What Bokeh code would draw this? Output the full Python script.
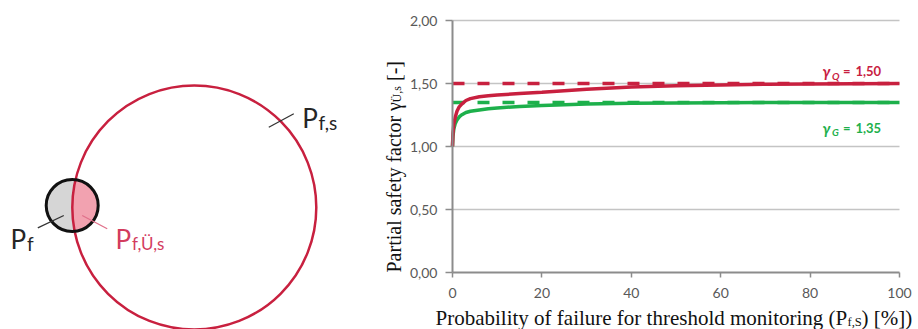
import numpy as np
from bokeh.plotting import figure
from bokeh.models import Range1d, FixedTicker
from bokeh.embed import file_html
from bokeh.resources import INLINE
from bokeh.core.properties import value

# ---------------- data ----------------
prob = [0, 0.1, 0.3, 0.6, 1, 1.5, 2, 3, 4, 6, 8, 10, 15, 20, 30, 40, 50, 60, 70, 80, 90, 100]
gamma_q_curve = [1.00, 1.10, 1.18, 1.23, 1.28, 1.315, 1.335, 1.365, 1.38, 1.395, 1.402, 1.408,
                 1.42, 1.43, 1.455, 1.472, 1.482, 1.489, 1.494, 1.497, 1.499, 1.50]
gamma_g_curve = [1.00, 1.08, 1.14, 1.18, 1.21, 1.235, 1.25, 1.27, 1.28, 1.29, 1.30, 1.306,
                 1.318, 1.326, 1.337, 1.343, 1.346, 1.348, 1.349, 1.35, 1.35, 1.35]
gamma_q_target = 1.50
gamma_g_target = 1.35
x_ticks = [0, 20, 40, 60, 80, 100]
y_ticks = [0.0, 0.5, 1.0, 1.5, 2.0]
y_tick_labels = ["0,00", "0,50", "1,00", "1,50", "2,00"]

RED = "#c8203f"
GREEN = "#1db04b"
PINK_TXT = "#d33c5e"
DARK = "#262626"
SANS = "Lato"
SERIF = "Liberation Serif"

# ---------------- page geometry (pixels) ----------------
W, H = 918, 329
FX0, FX1 = 452, 899      # plot area left/right
FY0, FY1 = 272, 20       # plot area bottom/top (from page top)
XMAX, YMAX = x_ticks[-1], y_ticks[-1]
sx = (FX1 - FX0) / XMAX
sy = (FY0 - FY1) / YMAX

p = figure(width=W, height=H,
           x_range=Range1d(-FX0 / sx, (W - FX0) / sx),
           y_range=Range1d(-(H - FY0) / sy, FY0 / sy),
           extra_x_ranges={"px": Range1d(0, W)}, extra_y_ranges={"px": Range1d(0, H)},
           min_border=0, toolbar_location=None, output_backend="svg",
           outline_line_color=None)
p.grid.visible = False

PX = dict(x_range_name="px", y_range_name="px")

def Y(y):  # page y (from top) -> px range value
    return H - y

# ---------------- chart axes ----------------
for ax in (p.xaxis[0], p.yaxis[0]):
    ax.fixed_location = 0
    ax.axis_line_color = "#8c8c8c"
    ax.axis_line_width = 2
    ax.major_tick_line_color = "#8c8c8c"
    ax.major_tick_line_width = 1.5
    ax.major_tick_in = 0
    ax.minor_tick_line_color = None
    ax.major_label_text_font = SANS
    ax.major_label_text_font_size = "14px"
    ax.major_label_text_color = "#595959"

p.xaxis.bounds = (x_ticks[0], x_ticks[-1])
p.xaxis.ticker = FixedTicker(ticks=x_ticks)
p.xaxis.major_tick_out = 5
p.xaxis.major_label_standoff = 10
p.yaxis.bounds = (y_ticks[0], y_ticks[-1])
p.yaxis.ticker = FixedTicker(ticks=y_ticks)
p.yaxis.major_tick_out = 7
p.yaxis.major_label_standoff = 8
p.yaxis.major_label_overrides = {t: s for t, s in zip(y_ticks, y_tick_labels)}

# horizontal grid lines
gy = y_ticks[1:]
p.segment(x0=[x_ticks[0]] * len(gy), x1=[x_ticks[-1]] * len(gy), y0=gy, y1=gy,
          line_color="#c4c4c4", line_width=1.5, level="underlay")

# curves
p.line([prob[0], prob[-1]], [gamma_q_target] * 2, line_color=RED, line_width=3.5, line_dash="12 13")
p.line([prob[0], prob[-1]], [gamma_g_target] * 2, line_color=GREEN, line_width=3.5, line_dash="12 13")
p.line(prob, gamma_g_curve, line_color=GREEN, line_width=3.5)
p.line(prob, gamma_q_curve, line_color=RED, line_width=3.5)

def txt(x, y, s, size, color, font=SANS, style="normal", angle=0.0):
    p.text(x=[x], y=[Y(y)], text=[s], text_font=value(font), text_font_size=size,
           text_color=color, text_baseline="alphabetic", text_align="left",
           text_font_style=style, angle=angle, **PX)

# curve labels
for (yb, sub, val, col) in [(70.7, "Q", "1,50", RED), (127.3, "G", "1,35", GREEN)]:
    txt(822, yb, "γ", "15px", col, style="bold italic")
    txt(831.5, yb + 4.3, sub, "10px", col, style="bold italic")
    txt(842.5, yb, "=", "13px", col, style="bold")
    txt(855, yb, val, "13px", col, style="bold")

# y-axis title (rotated)
txt(393, 272, "Partial safety factor γ", "20px", "#111111", font=SERIF, angle=np.pi / 2)
txt(396, 102, "Ü,s", "12px", "#111111", font=SERIF, angle=np.pi / 2)
txt(393, 80.5, "[-]", "20px", "#111111", font=SERIF, angle=np.pi / 2)

# x-axis title
txt(435, 317, "Probability of failure for threshold monitoring (P", "21px", "#111111", font=SERIF)
txt(847, 321, "f,S", "12.6px", "#111111", font=SERIF)
txt(861, 317, ") [%])", "21px", "#111111", font=SERIF)

# ---------------- left: schematic ----------------
big_c, big_r = (193.8, 207.0), 122.0
small_c, small_r = (71.7, 205.0), 26.0

a = np.array([small_c[0], Y(small_c[1])])
b = np.array([big_c[0], Y(big_c[1])])
d = np.hypot(*(b - a))
th0 = np.arctan2(b[1] - a[1], b[0] - a[0])
alpha = np.arccos((d**2 + small_r**2 - big_r**2) / (2 * d * small_r))
beta = np.arccos((d**2 + big_r**2 - small_r**2) / (2 * d * big_r))
t1 = np.linspace(th0 - alpha, th0 + alpha, 80)
arcA = a + small_r * np.c_[np.cos(t1), np.sin(t1)]
t2 = np.linspace(th0 + np.pi - beta, th0 + np.pi + beta, 80)
arcB = b + big_r * np.c_[np.cos(t2), np.sin(t2)]
if np.hypot(*(arcB[0] - arcA[-1])) > np.hypot(*(arcB[-1] - arcA[-1])):
    arcB = arcB[::-1]
lens = np.vstack([arcA, arcB])

p.circle(x=[a[0]], y=[a[1]], radius=small_r, fill_color="#d6d6d6", line_color=None, **PX)
p.patch(x=lens[:, 0], y=lens[:, 1], fill_color="#f2a2b0", line_color=None, **PX)
p.circle(x=[b[0]], y=[b[1]], radius=big_r, fill_color=None, line_color=RED, line_width=2.5, **PX)
p.circle(x=[a[0]], y=[a[1]], radius=small_r, fill_color=None, line_color="#111111", line_width=3, **PX)

# leader lines
p.segment(x0=[37.3, 268.3], y0=[Y(227.3), Y(126.7)], x1=[63.3, 293.3], y1=[Y(215.0), Y(113.3)],
          line_color="#333333", line_width=1.3, **PX)
p.segment(x0=[81.7], y0=[Y(215.0)], x1=[106.7], y1=[Y(228.3)], line_color="#e0708a",
          line_width=1.3, **PX)

txt(10, 238.5, "P", "26px", DARK)
txt(26.5, 243.3, "f", "19px", DARK)
txt(115, 238.5, "P", "26px", PINK_TXT)
txt(131.5, 243.3, "f,Ü,s", "17px", PINK_TXT)
txt(301.7, 117.3, "P", "26px", DARK)
txt(318, 121.7, "f,s", "19px", DARK)

open("out.html", "w").write(file_html(p, INLINE))
